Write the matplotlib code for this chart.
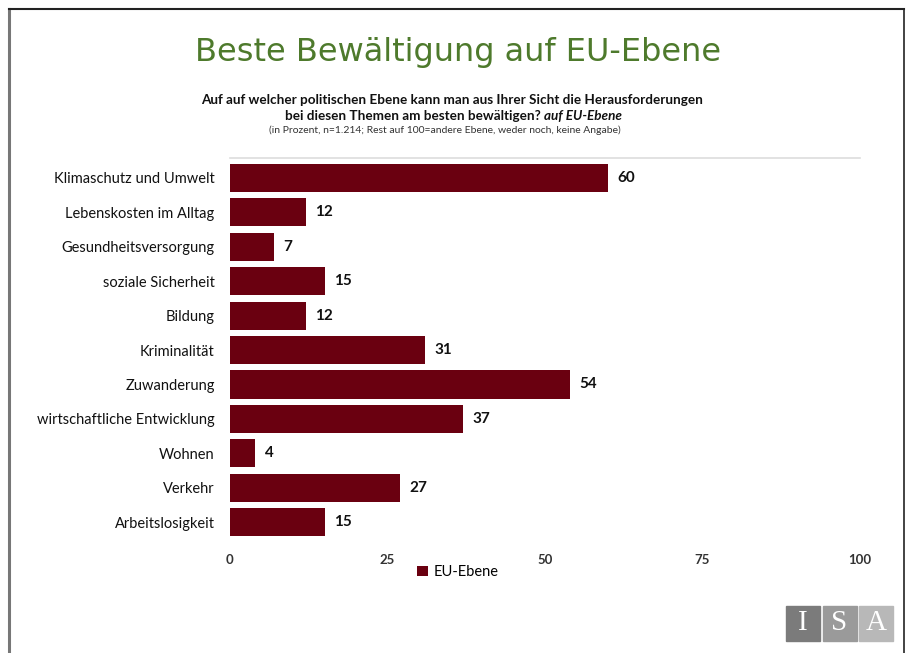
import matplotlib
matplotlib.use("Agg")
import matplotlib.pyplot as plt
from matplotlib.patches import Rectangle
from matplotlib.lines import Line2D

categories = ["Klimaschutz und Umwelt", "Lebenskosten im Alltag", "Gesundheitsversorgung",
              "soziale Sicherheit", "Bildung", "Kriminalität", "Zuwanderung",
              "wirtschaftliche Entwicklung", "Wohnen", "Verkehr", "Arbeitslosigkeit"]
values = [60, 12, 7, 15, 12, 31, 54, 37, 4, 27, 15]
xticks = [0, 25, 50, 75, 100]
series_name = "EU-Ebene"

bar_color = "#6a0010"
W, H = 907, 653
fig = plt.figure(figsize=(W / 100, H / 100), dpi=100)
fig.patch.set_facecolor("white")


def fx(x):
    return x / W


def fy(y):
    return 1 - y / H


# outer frame
fig.add_artist(Line2D([fx(9), fx(9)], [0, fy(9)], color="#777777", lw=2.2))
fig.add_artist(Line2D([fx(9), fx(904)], [fy(9), fy(9)], color="#222222", lw=1.5))
fig.add_artist(Line2D([fx(904), fx(904)], [0, fy(9)], color="#222222", lw=1.2))

fig.text(fx(458), fy(52), "Beste Bewältigung auf EU-Ebene", color="#4e7a2c",
         fontsize=23, ha="center", va="center", family="DejaVu Sans")
fig.text(fx(452), fy(100), "Auf auf welcher politischen Ebene kann man aus Ihrer Sicht die Herausforderungen",
         fontsize=9.7, fontweight="bold", ha="center", va="center", family="Lato", color="#111111")
fig.text(fx(544), fy(116), "bei diesen Themen am besten bewältigen? ", fontsize=9.7,
         fontweight="bold", ha="right", va="center", family="Lato", color="#111111")
fig.text(fx(544), fy(116), "auf EU-Ebene", fontsize=9.7, fontweight="bold", style="italic",
         ha="left", va="center", family="Lato", color="#111111")
fig.text(fx(445), fy(130), "(in Prozent, n=1.214; Rest auf 100=andere Ebene, weder noch, keine Angabe)",
         fontsize=7.5, ha="center", va="center", family="Lato", color="#333333")

ax = fig.add_axes([fx(230), fy(540), fx(860) - fx(230), fy(158) - fy(540)])
y = list(range(len(categories)))
ax.barh(y, values, height=0.82, color=bar_color, label=series_name)
ax.set_xlim(0, 100)
ax.set_ylim(10.52, -0.58)
ax.set_yticks(y)
ax.set_yticklabels(categories, fontsize=10.5, family="Lato", color="#111111")
ax.tick_params(axis="y", length=0, pad=11)
ax.set_xticks(xticks)
ax.set_xticklabels([str(t) for t in xticks], fontsize=9.5, family="Lato", fontweight="bold",
                   color="#333333")
ax.tick_params(axis="x", length=0, pad=10)
for s in ["left", "right", "bottom"]:
    ax.spines[s].set_visible(False)
ax.spines["top"].set_color("#dddddd")
ax.spines["top"].set_linewidth(1.2)
for v, yy in zip(values, y):
    ax.text(v + 1.5, yy, str(v), va="center", ha="left", fontsize=11, fontweight="bold",
            family="Lato", color="#111111")

leg = fig.legend(*ax.get_legend_handles_labels(), loc="center",
                 bbox_to_anchor=(fx(458), fy(572)), frameon=False,
                 handlelength=0.7, handleheight=0.7, handletextpad=0.4,
                 prop={"family": "Lato", "size": 10.5})

# ISA logo
box_cols = ["#7b7b7b", "#9a9a9a", "#b8b8b8"]
letters = ["I", "S", "A"]
x0 = 786
for i, (c, l) in enumerate(zip(box_cols, letters)):
    bx = x0 + i * 36.5
    fig.add_artist(Rectangle((fx(bx), fy(641)), fx(34), 35 / H, color=c,
                             transform=fig.transFigure))
    fig.text(fx(bx + 17), fy(623), l, color="white", fontsize=21, ha="center", va="center",
             family="Liberation Serif")

fig.savefig("out.png", dpi=100)
